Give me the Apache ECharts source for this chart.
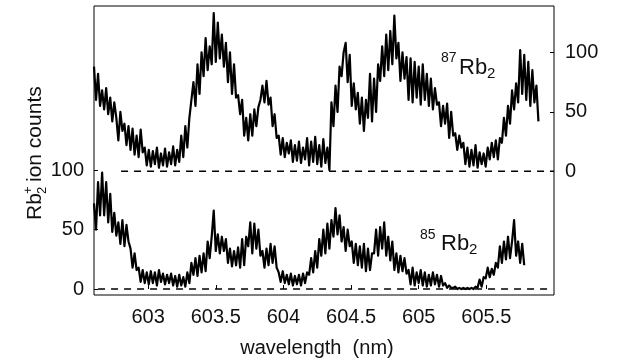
<!DOCTYPE html>
<html>
<head>
<meta charset="utf-8">
<script src="https://cdn.jsdelivr.net/npm/echarts@6/dist/echarts.min.js"></script>
<style>
html,body{margin:0;padding:0;background:#fff;}
#c{width:620px;height:362px;}
</style>
</head>
<body>
<div id="c"></div>
<script>
// wavelength scan grid (nm)
const scanStart = 602.6;
const scanStep = 0.015;
// x tick labels
const xTicks = [603, 603.5, 604, 604.5, 605, 605.5];
// y tick labels (each trace has its own zero)
const yTicks = [0, 50, 100];
// 87Rb2 ion counts (upper trace, right axis)
const rb87 = [88,60,82,55,68,52,70,48,62,42,58,45,26,50,34,40,22,38,18,36,
  14,30,12,35,16,20,5,18,4,17,6,20,3,15,5,19,4,16,6,21,
  5,18,8,30,12,38,20,45,60,75,55,90,65,100,80,112,85,105,90,133,
  92,125,95,115,88,108,75,100,65,90,62,64,48,60,30,45,26,48,30,52,
  38,54,60,72,58,76,56,62,38,48,28,30,14,28,12,24,15,26,8,22,
  9,25,7,20,10,28,5,25,8,29,6,22,4,27,7,20,1,58,38,72,
  50,88,80,100,108,75,98,55,74,52,66,40,62,34,60,45,82,42,78,50,
  90,76,105,80,115,85,118,90,131,95,108,76,100,78,96,60,95,58,92,62,
  88,56,90,60,82,55,78,52,70,56,58,38,55,40,57,28,50,30,32,18,
  30,20,24,6,20,4,18,5,22,3,16,6,15,4,20,10,24,12,26,10,
  28,24,45,30,55,40,68,52,74,58,102,65,98,60,92,55,85,58,72,42];
// 85Rb2 ion counts (lower trace, left axis)
const rb85 = [72,50,90,62,98,62,90,56,80,48,64,45,56,38,58,36,54,40,34,18,
  30,16,18,6,16,5,14,4,15,5,14,3,16,6,13,4,12,5,13,3,
  11,2,12,3,10,2,14,5,22,12,26,11,28,14,30,15,40,26,44,66,
  32,46,30,44,32,42,22,34,19,32,20,35,18,42,20,44,36,56,30,55,
  34,50,28,32,18,34,20,38,22,36,18,14,6,15,5,12,4,13,3,11,
  4,12,3,13,5,14,12,26,14,32,18,42,28,50,30,55,34,58,44,68,
  46,62,40,52,32,50,36,40,22,38,20,36,18,38,15,34,16,30,30,50,
  28,52,34,56,28,44,24,40,16,30,14,28,15,26,13,16,4,18,3,14,
  5,16,3,14,2,12,3,14,4,12,2,11,3,5,1,3,1,1,2,0,
  1,0,1,0,1,0,1,0,2,1,8,2,10,9,18,10,17,12,22,18,
  36,22,40,25,44,26,40,58,28,40,22,38,20];
// dashed zero lines: [start, end] wavelengths
const zeroLower = [602.63, 605.98];
const zeroUpper = [602.80, 606.0];

const toXY = arr => arr.map((v, i) => [+(scanStart + i * scanStep).toFixed(4), v]);

const TXT = '#111';
const FONT = 'Liberation Sans, Arial, sans-serif';

const chart = echarts.init(document.getElementById('c'), null, {renderer: 'canvas'});
chart.setOption({
  animation: false,
  backgroundColor: '#fff',
  grid: {left: 94, right: 66, top: 6, bottom: 67, show: true, borderColor: '#000', borderWidth: 1, backgroundColor: 'transparent'},
  xAxis: {
    type: 'value', min: 602.6, max: 606.0,
    axisLine: {show: false},
    splitLine: {show: false},
    axisTick: {show: true, inside: true, length: 4, customValues: xTicks, lineStyle: {color: '#000'}},
    axisLabel: {customValues: xTicks, color: TXT, fontSize: 20, fontFamily: FONT, margin: 12,
      formatter: v => String(v)}
  },
  yAxis: [
    {type: 'value', min: -5, max: 238, position: 'left',
      axisLine: {show: false}, splitLine: {show: false},
      axisTick: {show: true, inside: true, length: 4, customValues: yTicks, lineStyle: {color: '#000'}},
      axisLabel: {customValues: yTicks, color: TXT, fontSize: 20, fontFamily: FONT, margin: 10}},
    {type: 'value', min: -104, max: 139, position: 'right',
      axisLine: {show: false}, splitLine: {show: false},
      axisTick: {show: true, inside: true, length: 4, customValues: yTicks, lineStyle: {color: '#000'}},
      axisLabel: {customValues: yTicks, color: TXT, fontSize: 20, fontFamily: FONT, margin: 11}}
  ],
  series: [
    {type: 'line', yAxisIndex: 0, data: [[zeroLower[0], 0], [zeroLower[1], 0]], showSymbol: false,
      lineStyle: {color: '#000', width: 1.4, type: [7, 6]}, silent: true},
    {type: 'line', yAxisIndex: 1, data: [[zeroUpper[0], 0], [zeroUpper[1], 0]], showSymbol: false,
      lineStyle: {color: '#000', width: 1.4, type: [7, 6]}, silent: true},
    {name: '85Rb2', type: 'line', yAxisIndex: 0, data: toXY(rb85), showSymbol: false,
      lineStyle: {color: '#000', width: 2.2, join: 'round'}, silent: true},
    {name: '87Rb2', type: 'line', yAxisIndex: 1, data: toXY(rb87), showSymbol: false,
      lineStyle: {color: '#000', width: 2.2, join: 'round'}, silent: true}
  ],
  graphic: [
    // x-axis title
    {type: 'text', x: 317, y: 348, style: {text: 'wavelength  (nm)', font: '20px ' + FONT, fill: TXT, textAlign: 'center', textVerticalAlign: 'middle'}},
    // y-axis title, rotated
    {type: 'group', x: 35, y: 220, rotation: Math.PI / 2, children: [
      {type: 'text', x: 0, y: 0, style: {text: 'Rb', font: '21px ' + FONT, fill: TXT, textAlign: 'left', textVerticalAlign: 'middle'}},
      {type: 'text', x: 26, y: -7, style: {text: '+', font: '13px ' + FONT, fill: TXT, textAlign: 'left', textVerticalAlign: 'middle'}},
      {type: 'text', x: 26, y: 7, style: {text: '2', font: '13px ' + FONT, fill: TXT, textAlign: 'left', textVerticalAlign: 'middle'}},
      {type: 'text', x: 38, y: 0, style: {text: 'ion counts', font: '21px ' + FONT, fill: TXT, textAlign: 'left', textVerticalAlign: 'middle'}}
    ]},
    // 87Rb2 label
    {type: 'text', x: 441, y: 58, style: {text: '87', font: '14px ' + FONT, fill: TXT, textAlign: 'left', textVerticalAlign: 'middle'}},
    {type: 'text', x: 459, y: 68, style: {text: 'Rb', font: '22px ' + FONT, fill: TXT, textAlign: 'left', textVerticalAlign: 'middle'}},
    {type: 'text', x: 487, y: 74, style: {text: '2', font: '15px ' + FONT, fill: TXT, textAlign: 'left', textVerticalAlign: 'middle'}},
    // 85Rb2 label
    {type: 'text', x: 420, y: 235, style: {text: '85', font: '14px ' + FONT, fill: TXT, textAlign: 'left', textVerticalAlign: 'middle'}},
    {type: 'text', x: 441, y: 244, style: {text: 'Rb', font: '22px ' + FONT, fill: TXT, textAlign: 'left', textVerticalAlign: 'middle'}},
    {type: 'text', x: 469, y: 250, style: {text: '2', font: '15px ' + FONT, fill: TXT, textAlign: 'left', textVerticalAlign: 'middle'}}
  ]
});
</script>
</body>
</html>
